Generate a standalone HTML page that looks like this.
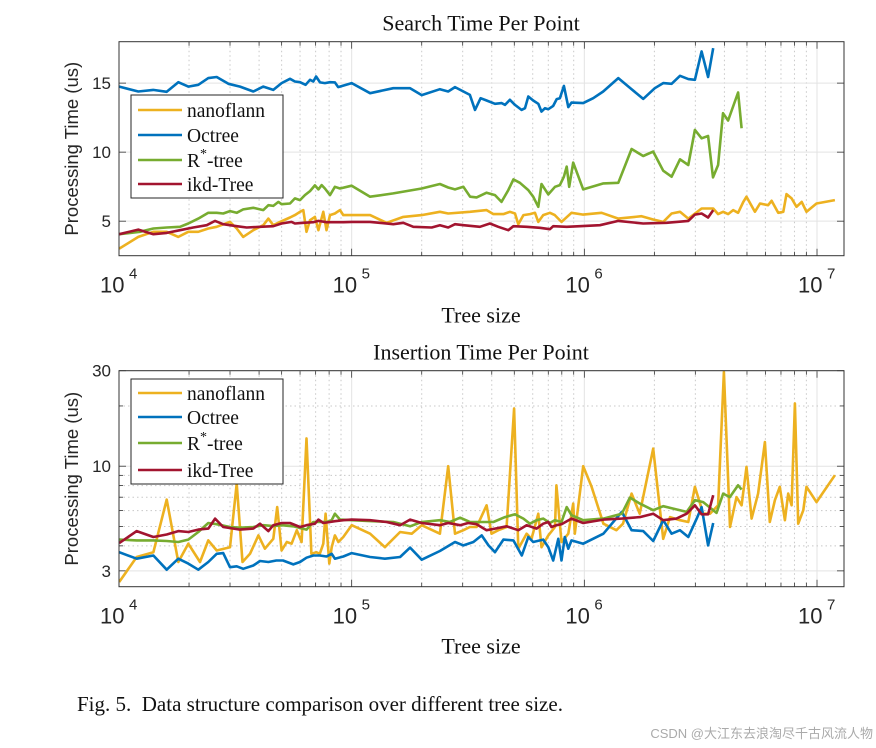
<!DOCTYPE html>
<html><head><meta charset="utf-8">
<style>
html,body{margin:0;padding:0;background:#fff;}
svg{display:block;}
.serif{font-family:"Liberation Serif",serif;}
.sans{font-family:"Liberation Sans",sans-serif;}
</style></head>
<body>
<svg id="fig" width="876" height="748" viewBox="0 0 876 748">
  <g id="top"></g>
  <g id="bot"></g>
  <text x="77" y="711" class="serif" font-size="21" fill="#111">Fig. 5.&#160;&#160;Data structure comparison over different tree size.</text>
  <text x="873" y="738" text-anchor="end" font-family="'Liberation Sans','Noto Sans CJK SC',sans-serif" font-size="13" fill="#aaa">CSDN @大江东去浪淘尽千古风流人物</text>
</svg>
<script>
// ---------- Search time (top) ----------
const sNanoN=[4.001,4.083,4.148,4.205,4.255,4.298,4.341,4.384,4.420,4.477,4.506,4.534,4.577,4.620,4.642,4.663,4.692,4.735,4.756,4.778,4.792,4.806,4.821,4.842,4.857,4.878,4.892,4.907,4.928,4.950,4.964,5.000,5.079,5.150,5.222,5.301,5.379,5.415,5.508,5.580,5.609,5.652,5.680,5.702,5.716,5.738,5.766,5.788,5.802,5.823,5.852,5.873,5.902,5.945,5.995,6.074,6.146,6.246,6.296,6.339,6.375,6.411,6.447,6.504,6.554,6.575,6.597,6.618,6.640,6.661,6.683,6.697,6.733,6.755,6.790,6.805,6.833,6.855,6.869,6.891,6.912,6.934,6.955,6.998,7.077];
const sNanoT=[3.01,3.86,4.23,4.23,3.86,4.23,4.23,4.47,4.59,4.95,4.47,3.86,4.35,4.71,5.19,4.71,4.95,5.27,5.44,5.68,5.80,4.23,5.07,5.31,4.35,5.68,4.35,5.44,5.56,5.80,5.44,5.44,5.44,4.88,5.31,5.44,5.68,5.56,5.68,5.80,5.51,5.51,5.68,5.56,4.78,5.44,5.51,5.61,4.95,5.44,5.61,5.44,4.95,5.61,5.48,5.61,5.19,5.36,5.12,4.95,5.56,5.68,5.19,5.92,5.92,5.51,5.68,5.51,5.80,5.61,6.40,6.77,5.68,6.28,6.16,6.48,5.61,5.68,6.96,6.65,6.04,6.40,5.68,6.28,6.53];
const sOctN=[4.001,4.083,4.147,4.205,4.255,4.298,4.341,4.384,4.420,4.470,4.520,4.577,4.620,4.663,4.699,4.735,4.756,4.778,4.802,4.821,4.835,4.847,4.864,4.885,4.907,4.928,4.942,5.000,5.079,5.179,5.251,5.301,5.379,5.415,5.444,5.508,5.530,5.554,5.580,5.616,5.645,5.659,5.680,5.702,5.730,5.745,5.759,5.780,5.802,5.816,5.831,5.845,5.866,5.881,5.895,5.912,5.931,5.945,5.995,6.038,6.081,6.146,6.203,6.253,6.303,6.339,6.375,6.411,6.447,6.475,6.504,6.532,6.554];
const sOctT=[14.75,14.39,14.51,14.37,15.07,14.75,14.88,15.36,15.44,14.95,14.75,14.39,14.75,14.51,15.0,15.31,15.12,15.07,14.88,15.24,15.12,15.48,15.05,15.0,15.07,15.05,14.71,15.0,14.27,14.63,14.63,14.13,14.56,14.39,14.71,14.15,13.06,13.91,13.74,13.50,13.55,13.42,13.79,13.42,13.06,13.18,14.03,13.74,13.50,12.94,13.18,13.11,13.35,13.84,13.91,14.80,13.26,13.59,13.55,13.91,14.39,15.36,14.56,13.86,14.63,15.0,14.95,15.53,15.29,15.24,17.3,15.44,17.54];
const sRstN=[4.001,4.090,4.148,4.205,4.262,4.298,4.341,4.384,4.420,4.448,4.477,4.506,4.534,4.577,4.620,4.642,4.663,4.685,4.699,4.735,4.756,4.778,4.799,4.821,4.842,4.857,4.871,4.885,4.907,4.928,4.950,5.000,5.079,5.179,5.301,5.379,5.415,5.444,5.480,5.509,5.537,5.580,5.616,5.644,5.673,5.695,5.723,5.759,5.780,5.802,5.816,5.845,5.874,5.895,5.912,5.924,5.935,5.952,5.995,6.082,6.146,6.203,6.253,6.296,6.339,6.375,6.411,6.447,6.475,6.504,6.532,6.553,6.575,6.596,6.618,6.661,6.676];
const sRstT=[4.06,4.23,4.47,4.54,4.59,4.83,5.19,5.61,5.61,5.56,5.73,5.61,5.85,5.97,5.80,6.16,6.11,6.40,6.23,6.28,6.65,6.53,6.89,7.18,7.59,7.30,7.61,7.37,6.89,7.49,7.37,7.57,6.77,7.01,7.37,7.69,7.44,7.30,7.49,6.77,6.72,7.06,6.89,6.40,7.25,8.03,7.78,7.25,6.77,6.04,7.69,6.94,7.49,7.61,8.22,8.95,7.49,9.24,7.30,7.74,7.78,10.23,9.72,10.04,8.66,8.22,9.48,9.07,11.61,11.00,11.17,8.17,9.07,12.82,12.29,14.32,11.73];
const sIkdN=[4.001,4.083,4.148,4.205,4.262,4.319,4.377,4.413,4.448,4.506,4.549,4.606,4.663,4.699,4.742,4.756,4.792,4.835,4.857,4.892,4.964,5.000,5.079,5.179,5.222,5.265,5.344,5.379,5.415,5.444,5.480,5.551,5.594,5.630,5.673,5.695,5.752,5.809,5.852,5.866,5.924,5.981,6.067,6.146,6.253,6.353,6.447,6.475,6.504,6.532,6.554];
const sIkdT=[4.06,4.39,4.06,4.15,4.35,4.54,4.71,5.02,4.78,4.64,4.54,4.59,4.64,4.83,4.95,4.83,4.88,4.93,5.02,4.93,4.93,4.95,4.95,4.78,4.88,4.59,4.54,4.71,4.54,4.78,4.71,4.59,4.83,4.59,4.35,4.64,4.59,4.52,4.42,4.64,4.59,4.64,4.71,5.02,4.83,4.88,5.02,5.48,5.56,5.27,5.80];
const sYTicks=[5,10,15];
const sYTickLabels=['5','10','15'];

// ---------- Insertion time (bottom) ----------
const iNanoN=[4.001,4.076,4.148,4.205,4.255,4.298,4.348,4.384,4.420,4.477,4.506,4.531,4.563,4.599,4.627,4.663,4.680,4.699,4.721,4.742,4.764,4.785,4.806,4.827,4.848,4.863,4.878,4.888,4.904,4.914,4.928,4.943,4.964,5.000,5.079,5.143,5.208,5.258,5.301,5.379,5.415,5.444,5.480,5.508,5.537,5.580,5.601,5.630,5.666,5.698,5.716,5.752,5.773,5.802,5.816,5.845,5.874,5.880,5.902,5.931,5.952,5.959,5.995,6.031,6.082,6.138,6.166,6.203,6.238,6.296,6.339,6.368,6.411,6.447,6.475,6.511,6.540,6.575,6.600,6.626,6.654,6.676,6.697,6.719,6.747,6.776,6.797,6.819,6.840,6.862,6.876,6.891,6.905,6.919,6.941,6.955,6.998,7.077];
const iNanoT=[2.64,3.52,3.72,6.81,3.32,4.10,3.32,4.26,3.79,3.94,8.19,3.32,3.65,4.51,3.87,4.34,6.25,3.79,4.18,4.10,4.79,4.18,13.77,3.65,3.72,3.65,4.10,5.79,3.26,3.94,4.51,4.18,4.43,5.07,4.60,3.94,4.69,4.60,5.07,4.60,10.0,4.60,4.79,4.97,4.97,6.38,4.60,4.79,4.97,19.4,3.87,4.60,4.34,5.79,3.94,4.51,4.97,8.03,4.18,4.60,6.50,4.60,10.0,7.89,5.16,4.79,5.16,7.30,5.79,12.25,4.34,5.57,5.37,5.26,7.89,5.79,5.79,6.38,29.6,4.97,7.01,6.38,9.92,5.47,7.30,13.2,5.26,6.76,7.89,5.37,7.30,6.38,20.6,5.16,6.03,7.89,6.62,9.02];
const iOctN=[4.001,4.076,4.148,4.205,4.255,4.298,4.341,4.384,4.420,4.448,4.477,4.506,4.534,4.577,4.606,4.642,4.676,4.705,4.749,4.778,4.806,4.835,4.863,4.892,4.914,4.928,4.964,5.000,5.079,5.143,5.208,5.251,5.301,5.379,5.444,5.480,5.523,5.559,5.588,5.616,5.652,5.695,5.731,5.759,5.780,5.823,5.845,5.866,5.888,5.902,5.916,5.931,5.945,5.995,6.082,6.161,6.203,6.253,6.296,6.339,6.375,6.411,6.447,6.483,6.504,6.532,6.554];
const iOctT=[3.72,3.45,3.58,3.04,3.45,3.26,3.04,3.32,3.65,3.68,3.13,3.16,3.07,3.19,3.36,3.32,3.38,3.38,3.23,3.32,3.49,3.58,3.58,3.54,3.65,3.45,3.54,3.68,3.52,3.45,3.52,3.92,3.41,3.77,4.18,4.02,4.18,4.51,4.02,3.72,4.30,4.26,3.58,4.43,4.18,4.30,3.94,3.38,4.34,3.38,4.43,3.87,4.26,4.10,4.60,5.91,4.79,4.74,4.23,5.37,4.60,4.79,4.43,5.47,6.25,4.02,5.20];
const iRstN=[4.001,4.076,4.148,4.205,4.255,4.298,4.341,4.384,4.420,4.477,4.520,4.577,4.620,4.663,4.699,4.749,4.806,4.835,4.863,4.892,4.914,4.928,4.950,5.000,5.079,5.179,5.251,5.301,5.379,5.422,5.466,5.508,5.559,5.609,5.659,5.702,5.738,5.766,5.795,5.823,5.852,5.873,5.902,5.924,5.945,5.995,6.082,6.161,6.196,6.239,6.296,6.339,6.382,6.440,6.475,6.511,6.568,6.597,6.625,6.661,6.676];
const iRstT=[4.30,4.26,4.26,4.23,4.18,4.30,4.69,5.20,5.13,4.97,4.93,4.97,5.07,5.02,5.07,5.01,4.82,5.26,5.26,5.26,5.37,5.79,5.41,5.37,5.32,5.26,5.01,5.26,5.37,5.26,5.53,5.26,5.26,5.26,5.57,5.75,5.47,5.16,5.37,5.47,5.20,5.37,5.26,6.25,5.69,5.37,5.47,5.79,6.97,6.50,6.03,6.31,6.14,5.91,6.76,6.62,5.84,7.30,7.01,8.03,7.64];
const iIkdN=[4.001,4.076,4.148,4.205,4.255,4.298,4.341,4.384,4.413,4.448,4.520,4.577,4.606,4.642,4.663,4.699,4.735,4.778,4.806,4.842,4.857,4.878,4.907,4.928,4.964,5.000,5.079,5.150,5.208,5.251,5.301,5.379,5.415,5.466,5.501,5.537,5.580,5.616,5.666,5.716,5.752,5.795,5.823,5.845,5.859,5.880,5.902,5.945,5.995,6.082,6.161,6.239,6.296,6.339,6.396,6.440,6.475,6.504,6.532,6.554];
const iIkdT=[4.13,4.74,4.43,4.56,4.74,4.69,4.82,4.88,5.47,4.97,4.82,4.88,5.16,4.74,5.07,5.20,5.20,4.97,5.07,5.16,5.41,5.20,5.26,5.31,5.37,5.41,5.37,5.26,5.07,5.41,5.20,5.07,5.20,5.07,5.20,5.13,4.79,4.88,5.01,4.79,5.07,4.88,5.16,5.26,4.97,5.07,5.13,5.47,5.20,5.41,5.47,5.57,5.79,5.37,5.47,5.79,6.38,5.75,5.75,7.16];
const iYTicks=[3,10,30];
const iYTickLabels=['3','10','30'];
const xDecades=[4,5,6,7];

const NS='http://www.w3.org/2000/svg';
const COL={nano:'#EDB120',oct:'#0072BD',rst:'#77AC30',ikd:'#A2142F'};
function mk(tag,attrs,parent){const e=document.createElementNS(NS,tag);for(const k in attrs)e.setAttribute(k,attrs[k]);parent.appendChild(e);return e;}

function buildChart(g,cfg){
  const L=119,R=844,T=cfg.top,B=cfg.bottom;
  const xMin=4,xMax=7.116;
  const xs=v=>L+(v-xMin)/(xMax-xMin)*(R-L);
  const ys=cfg.ys;
  // grid
  const grid=mk('g',{},g);
  
  
  for(let d=4;d<=7;d++){
    for(let m=2;m<=9;m++){const lv=d+Math.log10(m);if(lv>xMax)continue;const x=xs(lv);
      mk('line',{x1:x,x2:x,y1:T,y2:B,stroke:'#c8c8c8','stroke-width':1,'stroke-dasharray':'1.5,3'},grid);
      mk('line',{x1:x,x2:x,y1:B,y2:B-4,stroke:'#333','stroke-width':0.8},grid);
      mk('line',{x1:x,x2:x,y1:T,y2:T+4,stroke:'#333','stroke-width':0.8},grid);}
  }
  xDecades.forEach(d=>{const x=xs(d);
    mk('line',{x1:x,x2:x,y1:T,y2:B,stroke:'#e3e3e3','stroke-width':1},grid);
    mk('line',{x1:x,x2:x,y1:B,y2:B-7,stroke:'#333','stroke-width':0.8},grid);
    mk('line',{x1:x,x2:x,y1:T,y2:T+7,stroke:'#333','stroke-width':0.8},grid);});
  if(cfg.minorY){cfg.minorY.forEach(v=>{const y=ys(v);
    mk('line',{x1:L,x2:R,y1:y,y2:y,stroke:'#c8c8c8','stroke-width':1,'stroke-dasharray':'1.5,3'},grid);
    mk('line',{x1:L,x2:L+4,y1:y,y2:y,stroke:'#333','stroke-width':0.8},grid);
    mk('line',{x1:R,x2:R-4,y1:y,y2:y,stroke:'#333','stroke-width':0.8},grid);});}
  cfg.yTicks.forEach((v,i)=>{const y=ys(v);
    mk('line',{x1:L,x2:R,y1:y,y2:y,stroke:'#e3e3e3','stroke-width':1},grid);
    mk('line',{x1:L,x2:L+7,y1:y,y2:y,stroke:'#333','stroke-width':0.8},grid);
    mk('line',{x1:R,x2:R-7,y1:y,y2:y,stroke:'#333','stroke-width':0.8},grid);
    const t=mk('text',{x:111,y:y+6,'text-anchor':'end','font-size':17,fill:'#262626',class:'sans'},g);
    t.textContent=cfg.yLabels[i];
    
    });
  // x tick labels
  xDecades.forEach(d=>{const x=xs(d);
    const t=mk('text',{x:x-19,y:B+37,'font-size':22,fill:'#262626',class:'sans'},g);
    t.textContent='10';
    
    
    const s=mk('text',{x:x+10,y:B+23,'font-size':15,fill:'#262626',class:'sans'},g);
    s.textContent=String(d);
    
    });
  // series
  const clip='clip'+cfg.id;
  const cp=mk('clipPath',{id:clip},g);mk('rect',{x:L,y:T-1,width:R-L,height:B-T+2},cp);
  const sg=mk('g',{'clip-path':'url(#'+clip+')'},g);
  cfg.series.forEach(s=>{
    const pts=s.n.map((v,i)=>xs(v).toFixed(1)+','+ys(s.t[i]).toFixed(1)).join(' ');
    const p=mk('polyline',{points:pts,fill:'none',stroke:s.c,'stroke-width':2.6,'stroke-linejoin':'round'},sg);
    
    });
  // box
  const box=mk('rect',{x:L,y:T,width:R-L,height:B-T,fill:'none',stroke:'#333','stroke-width':1},g);
  
  
  // titles
  const ti=mk('text',{x:481,y:T-11,'text-anchor':'middle','font-size':22,fill:'#111',class:'serif'},g);
  ti.textContent=cfg.title;
  
  
  const xl=mk('text',{x:481,y:B+67,'text-anchor':'middle','font-size':22,fill:'#111',class:'serif'},g);
  xl.textContent='Tree size';
  
  
  const cy=(T+B)/2;
  const yl=mk('text',{x:0,y:0,'text-anchor':'middle','font-size':18.5,fill:'#262626',class:'sans',transform:'translate(78,'+cy+') rotate(-90)'},g);
  yl.textContent='Processing Time (us)';
  
  
  // legend
  const lg=mk('g',{},g);
  
  
  mk('rect',{x:131,y:cfg.legTop,width:152,height:cfg.legH,fill:'#fff',stroke:'#262626','stroke-width':1},lg);
  const names=['nanoflann','Octree','R*-tree','ikd-Tree'];
  cfg.series.forEach((s,i)=>{const y=cfg.legRows[i];
    mk('line',{x1:138,x2:182,y1:y,y2:y,stroke:s.c,'stroke-width':2.6},lg);
    const t=mk('text',{x:187,y:y+7,'font-size':19.5,fill:'#111',class:'serif'},lg);
    
    
    if(names[i]==='R*-tree'){t.textContent='R';const sp=mk('tspan',{dy:-9,'font-size':14},t);sp.textContent='*';const sp2=mk('tspan',{dy:9},t);sp2.textContent='-tree';}
    else t.textContent=names[i];});
}

buildChart(document.getElementById('top'),{
  id:'a',top:41.7,bottom:255.7,title:'Search Time Per Point',
  ys:v=>255.7-(v-2.5)/(18-2.5)*(255.7-41.7),
  yTicks:sYTicks,yLabels:sYTickLabels,minorY:null,
  legTop:95,legH:103,legRows:[110,135,160,184],
  series:[{key:'nanoflann',n:sNanoN,t:sNanoT,c:COL.nano},{key:'octree',n:sOctN,t:sOctT,c:COL.oct},{key:'rstar-tree',n:sRstN,t:sRstT,c:COL.rst},{key:'ikd-tree',n:sIkdN,t:sIkdT,c:COL.ikd}]
});
const lo=Math.log10(2.5),hi=Math.log10(30);
buildChart(document.getElementById('bot'),{
  id:'b',top:370.7,bottom:586.7,title:'Insertion Time Per Point',
  ys:v=>586.7-(Math.log10(v)-lo)/(hi-lo)*(586.7-370.7),
  yTicks:iYTicks,yLabels:iYTickLabels,minorY:[4,5,6,7,8,9,20],
  legTop:379,legH:105,legRows:[393,417,443,470],
  series:[{key:'nanoflann',n:iNanoN,t:iNanoT,c:COL.nano},{key:'octree',n:iOctN,t:iOctT,c:COL.oct},{key:'rstar-tree',n:iRstN,t:iRstT,c:COL.rst},{key:'ikd-tree',n:iIkdN,t:iIkdT,c:COL.ikd}]
});
</script>
</body></html>
